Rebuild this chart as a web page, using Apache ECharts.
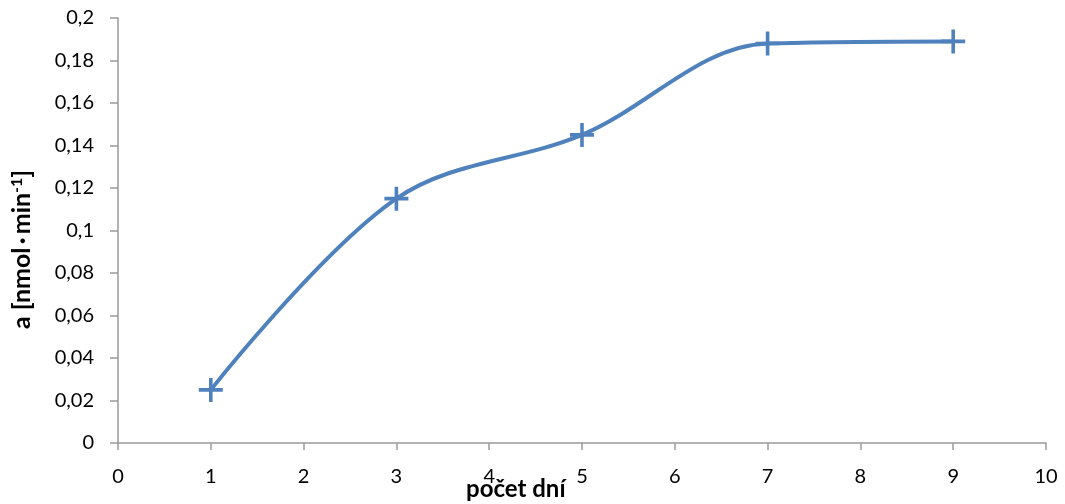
<!DOCTYPE html>
<html><head><meta charset="utf-8">
<script src="https://cdn.jsdelivr.net/npm/echarts@6/dist/echarts.min.js"></script>
<style>html,body{margin:0;padding:0;background:#fff}#c{width:1065px;height:504px}</style>
</head><body><div id="c"></div>
<script>
const days = [1, 3, 5, 7, 9];
const activity = [0.025, 0.115, 0.145, 0.188, 0.189];
const xTitle = 'počet dní';
const yTitle = 'a [nmol\u2009·\u2009min{sup|-1}]';
const FONT = 'Lato';
const AX = '#9a9a9a';
const chart = echarts.init(document.getElementById('c'));
chart.setOption({
  animation: false,
  grid: {left: 118, right: 19, top: 18, bottom: 61},
  graphic: [
    {type: 'text', left: 466, top: 477,
     style: {text: xTitle, fontFamily: FONT, fontWeight: 'bold', fontSize: 24, fill: '#000'}},
    {type: 'text', x: 9, y: 329, rotation: Math.PI / 2,
     style: {text: yTitle, fontFamily: FONT, fontWeight: 'bold', fontSize: 25, fill: '#000',
       rich: {sup: {fontFamily: FONT, fontWeight: 'bold', fontSize: 16, verticalAlign: 'top', padding: [0, 0, 10, 0]}}}}
  ],
  xAxis: {
    type: 'value', min: 0, max: 10, interval: 1,
    axisLine: {lineStyle: {color: AX, width: 1.5}},
    axisTick: {show: true, length: 7, lineStyle: {color: AX, width: 1.5}},
    splitLine: {show: false},
    axisLabel: {fontFamily: FONT, fontSize: 20, color: '#000', margin: 24}
  },
  yAxis: {
    type: 'value', min: 0, max: 0.2, interval: 0.02,
    axisLine: {show: true, lineStyle: {color: AX, width: 1.5}},
    axisTick: {show: true, length: 8, lineStyle: {color: AX, width: 1.5}},
    splitLine: {show: false},
    axisLabel: {fontFamily: FONT, fontSize: 20, color: '#000', margin: 24,
      formatter: v => String(+v.toFixed(2)).replace('.', ',')}
  },
  series: [{
    type: 'line',
    data: days.map((d, i) => [d, activity[i]]),
    smooth: 0.35,
    lineStyle: {color: '#4F81BD', width: 4},
    symbol: 'path://M0,8.5H20V11.5H0Z M8.5,0H11.5V20H8.5Z',
    symbolSize: 24,
    itemStyle: {color: '#4F81BD'}
  }]
});
</script></body></html>
